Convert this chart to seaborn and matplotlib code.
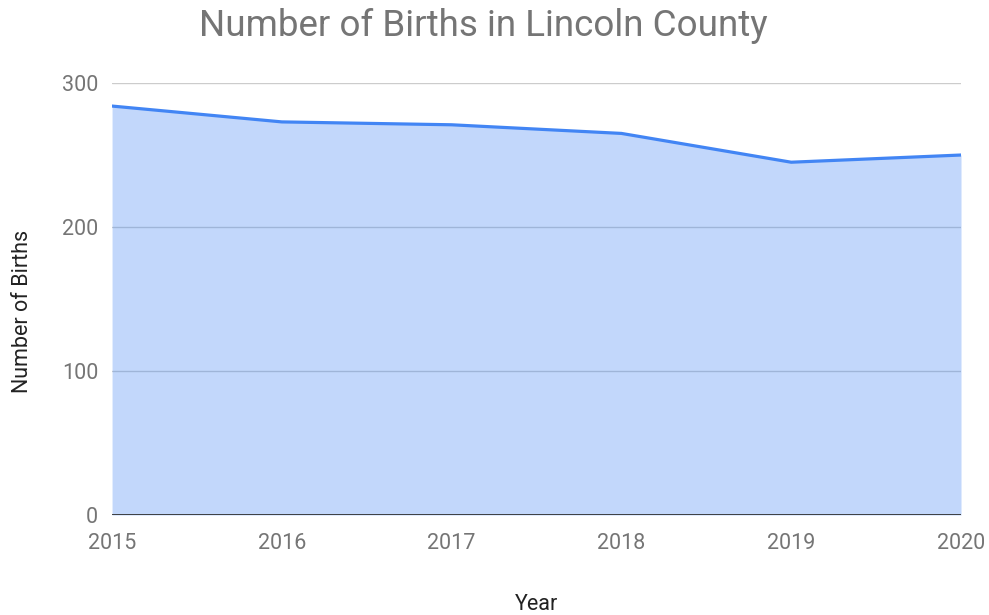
import numpy as np
import pandas as pd
import matplotlib
matplotlib.use("Agg")
import matplotlib.pyplot as plt
import seaborn as sns

# values
years = [2015, 2016, 2017, 2018, 2019, 2020]
births = [284, 273, 271, 265, 245, 250]
y_ticks = [0, 100, 200, 300]

df = pd.DataFrame({"Year": years, "Births": births})

sns.set_theme(style="white")
plt.rcParams["font.family"] = ["Roboto", "DejaVu Sans"]

LINE = "#4285F4"
GREY = "#757575"

fig = plt.figure(figsize=(9.89, 6.15), dpi=100)
ax = fig.add_axes([0.1133, 0.1626, 0.8584, 0.7024])

# gridlines first so the translucent fill shows them through
for t in y_ticks[1:]:
    ax.axhline(t, color="#cccccc", linewidth=1, zorder=0)

ax.fill_between(df["Year"], df["Births"], 0, color=LINE, alpha=0.32, linewidth=0, zorder=1)
sns.lineplot(data=df, x="Year", y="Births", ax=ax, color=LINE, linewidth=2.3, zorder=3)
ax.axhline(0, color="#333333", linewidth=1.3, zorder=4)

ax.set_xlim(years[0], years[-1])
ax.set_ylim(0, 300)
ax.set_xticks(years)
ax.set_yticks(y_ticks)
ax.tick_params(axis="both", length=0, labelsize=15.5, labelcolor=GREY)
ax.tick_params(axis="x", pad=13)
ax.tick_params(axis="y", pad=10)

for s in ax.spines.values():
    s.set_visible(False)

ax.set_xlabel("Year", fontsize=15.5, color="#222222", labelpad=29)
ax.set_ylabel("Number of Births", fontsize=15.5, color="#222222", labelpad=21, y=0.472)
ax.set_title("Number of Births in Lincoln County", fontsize=26.5, color=GREY, pad=34, x=0.437)

fig.savefig("out.png", dpi=100)
